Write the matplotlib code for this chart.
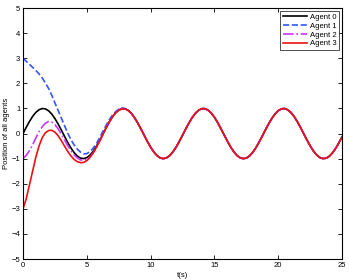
import matplotlib
matplotlib.use("Agg")
import matplotlib.pyplot as plt

plt.rcParams['font.family'] = ['Liberation Sans', 'DejaVu Sans']

# time samples: early part (0..8 s) and shared tail (8.25..25 s), 0.25 s step
t_early = [0.0, 0.25, 0.5, 0.75, 1.0, 1.25, 1.5, 1.75, 2.0, 2.25, 2.5, 2.75, 3.0,
           3.25, 3.5, 3.75, 4.0, 4.25, 4.5, 4.75, 5.0, 5.25, 5.5, 5.75, 6.0,
           6.25, 6.5, 6.75, 7.0, 7.25, 7.5, 7.75, 8.0]
agent0_early = [0.0, 0.247, 0.479, 0.682, 0.841, 0.949, 0.997, 0.984, 0.909, 0.778,
                0.598, 0.382, 0.141, -0.108, -0.351, -0.572, -0.757, -0.895, -0.978,
                -0.999, -0.959, -0.859, -0.706, -0.508, -0.279, -0.033, 0.215, 0.450,
                0.657, 0.823, 0.938, 0.995, 0.989]
agent1_early = [3.0, 2.88, 2.76, 2.64, 2.52, 2.38, 2.22, 2.02, 1.80, 1.53, 1.22, 0.92,
                0.62, 0.32, 0.02, -0.24, -0.45, -0.62, -0.74, -0.81, -0.80, -0.72,
                -0.58, -0.40, -0.17, 0.08, 0.32, 0.54, 0.73, 0.87, 0.97, 1.02, 1.00]
agent2_early = [-1.0, -0.87, -0.68, -0.45, -0.18, 0.07, 0.27, 0.41, 0.48, 0.46, 0.36,
                0.19, -0.02, -0.25, -0.48, -0.68, -0.85, -0.97, -1.05, -1.07, -1.03,
                -0.93, -0.77, -0.56, -0.31, -0.05, 0.21, 0.45, 0.66, 0.83, 0.94, 0.99, 0.99]
agent3_early = [-3.0, -2.6, -2.05, -1.5, -0.95, -0.5, -0.17, 0.03, 0.12, 0.13, 0.06,
                -0.09, -0.28, -0.50, -0.71, -0.89, -1.03, -1.12, -1.16, -1.15, -1.08,
                -0.95, -0.77, -0.55, -0.30, -0.04, 0.22, 0.46, 0.66, 0.82, 0.93, 0.98, 0.98]

t_tail = [8.25, 8.5, 8.75, 9.0, 9.25, 9.5, 9.75, 10.0, 10.25, 10.5, 10.75, 11.0,
          11.25, 11.5, 11.75, 12.0, 12.25, 12.5, 12.75, 13.0, 13.25, 13.5, 13.75,
          14.0, 14.25, 14.5, 14.75, 15.0, 15.25, 15.5, 15.75, 16.0, 16.25, 16.5,
          16.75, 17.0, 17.25, 17.5, 17.75, 18.0, 18.25, 18.5, 18.75, 19.0, 19.25,
          19.5, 19.75, 20.0, 20.25, 20.5, 20.75, 21.0, 21.25, 21.5, 21.75, 22.0,
          22.25, 22.5, 22.75, 23.0, 23.25, 23.5, 23.75, 24.0, 24.25, 24.5, 24.75, 25.0]
tail = [0.920, 0.798, 0.624, 0.412, 0.174, -0.075, -0.320, -0.544, -0.735, -0.880,
        -0.971, -1.000, -0.967, -0.875, -0.729, -0.537, -0.311, -0.066, 0.183, 0.420,
        0.632, 0.804, 0.926, 0.991, 0.994, 0.935, 0.818, 0.650, 0.442, 0.202, -0.042,
        -0.288, -0.517, -0.712, -0.866, -0.961, -1.000, -0.980, -0.891, -0.751,
        -0.567, -0.340, -0.099, 0.150, 0.389, 0.603, 0.783, 0.913, 0.985, 0.997,
        0.946, 0.837, 0.675, 0.473, 0.239, -0.009, -0.256, -0.487, -0.688, -0.846,
        -0.952, -0.998, -0.982, -0.906, -0.773, -0.592, -0.374, -0.132]

labels = ['Agent 0', 'Agent 1', 'Agent 2', 'Agent 3']
xticks = [0, 5, 10, 15, 20, 25]
yticks = [-5, -4, -3, -2, -1, 0, 1, 2, 3, 4, 5]

t = t_early + t_tail
series = [agent0_early + tail, agent1_early + tail, agent2_early + tail, agent3_early + tail]
colors = ['#000000', '#3355ff', '#cc33ff', '#ee1111']
styles = ['-', '--', '-.', '-']

fig = plt.figure(figsize=(3.49, 2.80), dpi=100)
ax = fig.add_axes([0.066, 0.075, 0.914, 0.896])
for y, c, ls, lab in zip(series, colors, styles, labels):
    ax.plot(t, y, color=c, linestyle=ls, linewidth=1.2, label=lab)

ax.set_xlim(0, 25)
ax.set_ylim(-5, 5)
ax.set_xticks(xticks)
ax.set_yticks(yticks)
ax.tick_params(direction='in', length=3, width=0.6, labelsize=5.5, pad=2,
               top=True, right=True)
for s in ax.spines.values():
    s.set_linewidth(0.8)
ax.set_xlabel('t(s)', fontsize=5.5, labelpad=2)
ax.set_ylabel('Position of all agents', fontsize=5.5, labelpad=1)
leg = ax.legend(loc='upper right', fontsize=5.5, frameon=True, fancybox=False,
                edgecolor='black', borderaxespad=0.4, handlelength=3.2,
                labelspacing=0.2, borderpad=0.3, handletextpad=0.4)
leg.get_frame().set_linewidth(0.6)

fig.savefig('out.png', dpi=100)
